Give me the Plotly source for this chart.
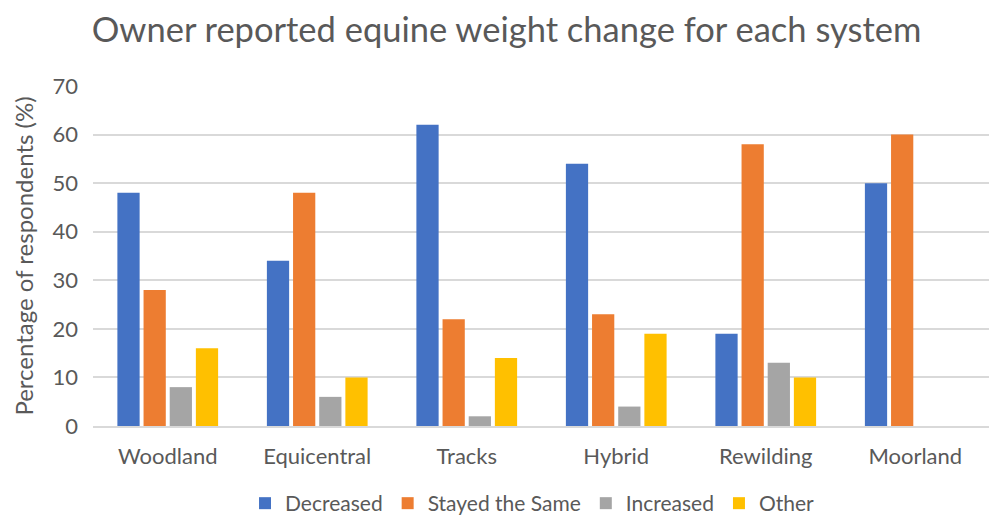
import plotly.graph_objects as go

categories = ["Woodland", "Equicentral", "Tracks", "Hybrid", "Rewilding", "Moorland"]
decreased = [48, 34, 62, 54, 19, 50]
stayed_same = [28, 48, 22, 23, 58, 60]
increased = [8, 6, 2, 4, 13, 0]
other = [16, 10, 14, 19, 10, 0]

series = [
    ("Decreased", decreased, "#4472C4"),
    ("Stayed the Same", stayed_same, "#ED7D31"),
    ("Increased", increased, "#A5A5A5"),
    ("Other", other, "#FFC000"),
]

fig = go.Figure()
for name, vals, color in series:
    fig.add_trace(go.Bar(name=name, x=categories, y=vals, marker_color=color,
                         marker_line_width=0))

font_family = "Lato, 'Open Sans', sans-serif"
fig.update_layout(
    width=997, height=519,
    margin=dict(l=85, r=15, t=78, b=101, autoexpand=False),
    paper_bgcolor="white", plot_bgcolor="white",
    barmode="group", bargap=0.3, bargroupgap=0.15,
    font=dict(family=font_family, color="#595959", size=22),
    title=dict(text="Owner reported equine weight change for each system",
               x=0.5, xanchor="center", y=0.957, yanchor="middle",
               font=dict(size=34.5, color="#595959", family=font_family)),
    legend=dict(orientation="h", x=0.49, xanchor="center", y=-0.228, yanchor="middle",
                font=dict(size=21, color="#595959"), itemwidth=30,
                traceorder="normal"),
    xaxis=dict(showgrid=False, showline=True, linecolor="#D9D9D9", linewidth=1.5,
               ticks="", ticklabelstandoff=10, tickfont=dict(size=22, color="#595959")),
    yaxis=dict(range=[0, 70], dtick=10, showgrid=True, gridcolor="#D9D9D9", gridwidth=1.5,
               zeroline=False, ticks="", ticklabelstandoff=14,
               tickfont=dict(size=22, color="#595959"),
               title=dict(text="Percentage of respondents (%)", standoff=12,
                          font=dict(size=24, color="#595959"))),
)

fig.write_html("out.html")
